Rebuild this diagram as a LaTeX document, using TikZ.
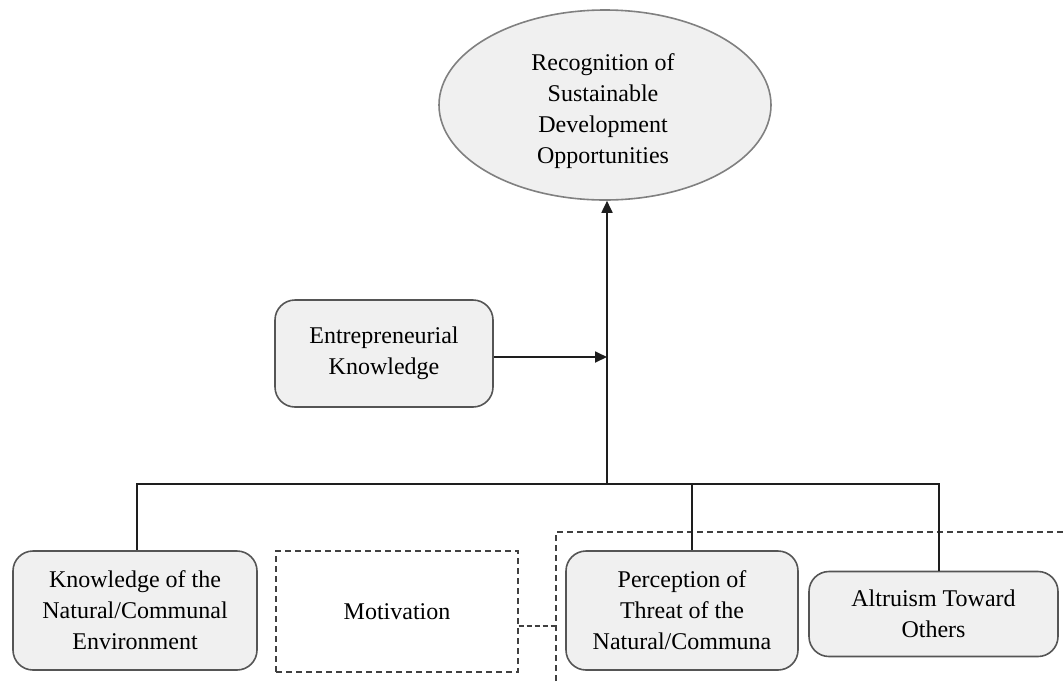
\documentclass[tikz,border=0pt]{standalone}
\usepackage{fontspec}
\setmainfont{Liberation Serif}
\usetikzlibrary{shapes.geometric,arrows.meta,calc}
\definecolor{boxfill}{RGB}{240,240,240}
\definecolor{boxline}{RGB}{85,85,85}
\definecolor{ovalline}{RGB}{128,128,128}
\definecolor{wire}{RGB}{30,30,30}
\tikzset{
  x=1pt, y=-1pt,
  every node/.style={font=\fontsize{24}{31}\selectfont, align=center, inner sep=0pt},
  roundbox/.style={draw=boxline, fill=boxfill, line width=1.6pt, rounded corners=20pt},
  dashbox/.style={draw=wire!85, line width=1.4pt, dash pattern=on 6pt off 4pt},
  oval/.style={ellipse, draw=ovalline, fill=boxfill, line width=1.6pt},
  wireline/.style={draw=wire, line width=1.8pt},
  arrowline/.style={wireline, -{Triangle[length=12pt,width=11pt]}},
}
\begin{document}
\begin{tikzpicture}
\useasboundingbox (0,0) rectangle (1064,681);

% outcome
\node[oval, minimum width=332pt, minimum height=190pt] (rec) at (605,105) {};
\node at (603,111) {Recognition of\\Sustainable\\Development\\Opportunities};

% moderator
\node[roundbox, minimum width=218pt, minimum height=107pt] (ent) at (384,353.5)
  {Entrepreneurial\\Knowledge};

% antecedents
\node[roundbox, minimum width=244pt, minimum height=119pt] (know) at (135,610.5)
  {Knowledge of the\\Natural/Communal\\Environment};
\node[dashbox, minimum width=242pt, minimum height=121pt] (mot) at (397,611.5)
  {Motivation};
\node[roundbox, minimum width=232pt, minimum height=119pt] (perc) at (682,610.5)
  {Perception of\\Threat of the\\Natural/Communa};
\node[roundbox, minimum width=249pt, minimum height=85pt] (alt) at (933.5,614)
  {Altruism Toward\\Others};

% dashed frame grouping the motivation factors
\coordinate (fr) at (556,532);
\draw[dashbox] (556,681) -- (fr) -- (1064,532);
\coordinate (motout) at ($(mot.east)+(0,14.5)$);
\draw[dashbox, dash pattern=on 5pt off 3pt] (motout) -- (motout -| fr);

% connectors
\coordinate (hub) at (607,484);
\draw[wireline] ([xshift=2pt]know.north) -- ([xshift=2pt]know.north |- hub)
  -- ([xshift=5.5pt]alt.north |- hub) -- ([xshift=5.5pt]alt.north);
\draw[wireline] ([xshift=10pt]perc.north) -- ([xshift=10pt]perc.north |- hub);
\draw[arrowline] (hub) -- (hub |- rec.south);
\coordinate (entout) at ($(ent.east)+(0,3.5)$);
\draw[arrowline] (entout) -- (entout -| hub);
\end{tikzpicture}
\end{document}
